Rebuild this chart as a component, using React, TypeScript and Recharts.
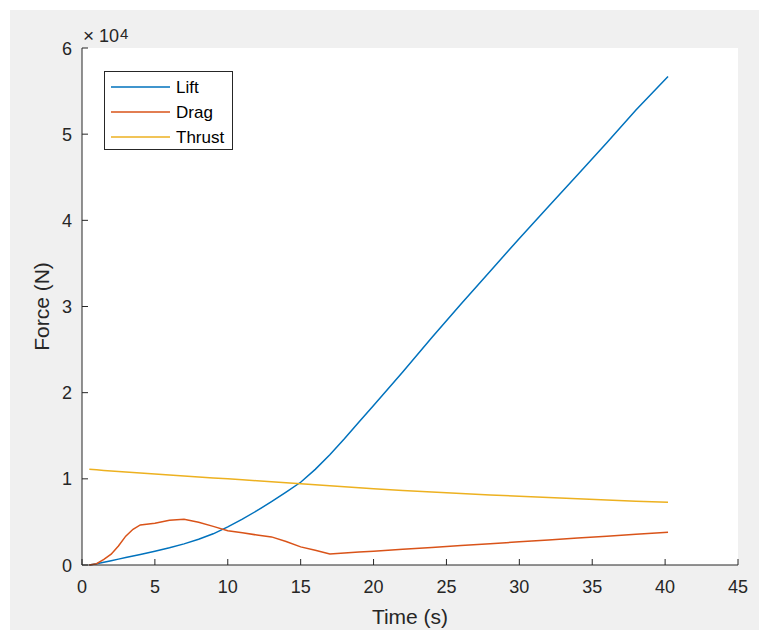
import React from "react";
import { LineChart, Line, XAxis, YAxis, CartesianGrid, Legend } from "recharts";

// time (s) and forces (N)
const time = [0.5, 1, 1.5, 2, 2.5, 3, 3.5, 4, 5, 6, 7, 8, 9, 10, 11, 12, 13, 14, 15, 16, 17, 18, 19, 20, 22, 24, 26, 28, 30, 32, 34, 36, 38, 40.2];
const lift = [0, 150, 320, 500, 680, 860, 1040, 1220, 1600, 2000, 2450, 2980, 3620, 4420, 5320, 6300, 7350, 8450, 9600, 11100, 12800, 14650, 16600, 18500, 22400, 26400, 30300, 34100, 37900, 41600, 45300, 49000, 52800, 56700];
const drag = [0, 150, 650, 1250, 2200, 3350, 4150, 4650, 4850, 5200, 5300, 4950, 4480, 3980, 3730, 3480, 3260, 2720, 2100, 1700, 1280, 1390, 1500, 1600, 1820, 2040, 2250, 2470, 2690, 2910, 3120, 3340, 3560, 3800];
const thrust = [11100, 11040, 10980, 10920, 10860, 10800, 10740, 10680, 10560, 10450, 10340, 10220, 10110, 10000, 9890, 9770, 9660, 9540, 9430, 9310, 9200, 9080, 8970, 8850, 8660, 8470, 8290, 8130, 7980, 7820, 7680, 7540, 7410, 7280];

const xTicks = [0, 5, 10, 15, 20, 25, 30, 35, 40, 45];
const yTicks = [0, 10000, 20000, 30000, 40000, 50000, 60000];
const seriesNames = ["Lift", "Drag", "Thrust"];

const AXIS = "#262626";
const FONT = '"Liberation Sans", Arial, Helvetica, sans-serif';
const COLORS = { Lift: "#0072BD", Drag: "#D95319", Thrust: "#EDB120" };

const data = time.map((t, i) => ({ t, Lift: lift[i], Drag: drag[i], Thrust: thrust[i] }));

const BottomTick = ({ x, y, payload }: any) => (
  <g>
    <line x1={x} x2={x} y1={y} y2={y - 6} stroke={AXIS} />
    <text x={x} y={y + 28} textAnchor="middle" fontSize={18} fill={AXIS} fontFamily={FONT}>
      {payload.value}
    </text>
  </g>
);

const LeftTick = ({ x, y, payload }: any) => (
  <g>
    <line x1={x} x2={x + 6} y1={y} y2={y} stroke={AXIS} />
    <text x={x - 10} y={y + 6.5} textAnchor="end" fontSize={18} fill={AXIS} fontFamily={FONT}>
      {payload.value / 10000}
    </text>
  </g>
);

const TopTick = ({ x, y }: any) => <line x1={x} x2={x} y1={y} y2={y + 6} stroke={AXIS} />;
const RightTick = ({ x, y }: any) => <line x1={x - 6} x2={x} y1={y} y2={y} stroke={AXIS} />;

const LegendBox = ({ payload }: any) => {
  const items = [...(payload || [])].sort(
    (a: any, b: any) => seriesNames.indexOf(a.value) - seriesNames.indexOf(b.value)
  );
  return (
    <svg width={130} height={80} style={{ display: "block" }}>
      <rect x={0.5} y={0.5} width={128} height={78} fill="#fff" stroke={AXIS} />
      {items.map((p: any, i: number) => (
        <g key={p.value}>
          <line x1={7} x2={66} y1={16 + i * 25} y2={16 + i * 25} stroke={p.color} strokeWidth={1.4} />
          <text x={72} y={22 + i * 25} fontSize={17} fontFamily={FONT} fill="#000">
            {p.value}
          </text>
        </g>
      ))}
    </svg>
  );
};

export default function App() {
  return (
    <div style={{ position: "relative", width: 759, height: 630, background: "#fff" }}>
      <style>{"body{margin:0}"}</style>
      <div style={{ position: "absolute", left: 10, top: 10, width: 749, height: 620, background: "#f0f0f0" }} />
      <div style={{ position: "absolute", left: 0, top: 0 }}>
        <LineChart width={759} height={630} data={data} margin={{ top: 48, right: 21, bottom: 25, left: 22 }}>
          <CartesianGrid horizontal={false} vertical={false} fill="#ffffff" />
          <XAxis
            dataKey="t"
            type="number"
            domain={[0, 45]}
            ticks={xTicks}
            interval={0}
            height={40}
            tickSize={0}
            tickMargin={0}
            tickLine={false}
            axisLine={{ stroke: AXIS }}
            tick={<BottomTick />}
            label={{
              content: ({ viewBox }: any) => (
                <text
                  x={viewBox.x + viewBox.width / 2}
                  y={viewBox.y + 59}
                  textAnchor="middle"
                  fontSize={21}
                  fill={AXIS}
                  fontFamily={FONT}
                >
                  Time (s)
                </text>
              ),
            }}
          />
          <XAxis
            xAxisId="top"
            orientation="top"
            dataKey="t"
            type="number"
            domain={[0, 45]}
            ticks={xTicks}
            interval={0}
            height={0}
            tickSize={0}
            tickMargin={0}
            tickLine={false}
            axisLine={{ stroke: AXIS }}
            tick={<TopTick />}
            label={{
              content: ({ viewBox }: any) => (
                <text
                  x={viewBox.x + viewBox.width / 2}
                  y={viewBox.y - 12}
                  textAnchor="middle"
                  fontSize={21}
                  fontWeight="bold"
                  fill="#000"
                  fontFamily={FONT}
                >
                  TO Performance
                </text>
              ),
            }}
          />
          <YAxis
            type="number"
            domain={[0, 60000]}
            ticks={yTicks}
            interval={0}
            width={60}
            tickSize={0}
            tickMargin={0}
            tickLine={false}
            axisLine={{ stroke: AXIS }}
            tick={<LeftTick />}
            label={{
              content: ({ viewBox }: any) => {
                const ax = viewBox.x + viewBox.width;
                return (
                  <g fontFamily={FONT} fill={AXIS}>
                    <text
                      x={viewBox.x + 27}
                      y={viewBox.y + viewBox.height / 2}
                      transform={`rotate(-90 ${viewBox.x + 27} ${viewBox.y + viewBox.height / 2})`}
                      textAnchor="middle"
                      fontSize={21}
                    >
                      Force (N)
                    </text>
                    <text x={ax + 1} y={viewBox.y - 6} fontSize={19}>×</text>
                    <text x={ax + 17} y={viewBox.y - 6} fontSize={18}>10</text>
                    <text x={ax + 38} y={viewBox.y - 9} fontSize={15}>4</text>
                  </g>
                );
              },
            }}
          />
          <YAxis
            yAxisId="right"
            orientation="right"
            type="number"
            domain={[0, 60000]}
            ticks={yTicks}
            interval={0}
            width={0}
            tickSize={0}
            tickMargin={0}
            tickLine={false}
            axisLine={{ stroke: AXIS }}
            tick={<RightTick />}
          />
          <Legend
            layout="horizontal"
            verticalAlign="middle"
            align="center"
            content={<LegendBox />}
            wrapperStyle={{ left: 104, top: 71, width: 130, height: 80 }}
          />
          {seriesNames.map((name) => (
            <Line
              key={name}
              type="linear"
              dataKey={name}
              name={name}
              stroke={COLORS[name as keyof typeof COLORS]}
              strokeWidth={1.5}
              dot={false}
              isAnimationActive={false}
            />
          ))}
        </LineChart>
      </div>
    </div>
  );
}
